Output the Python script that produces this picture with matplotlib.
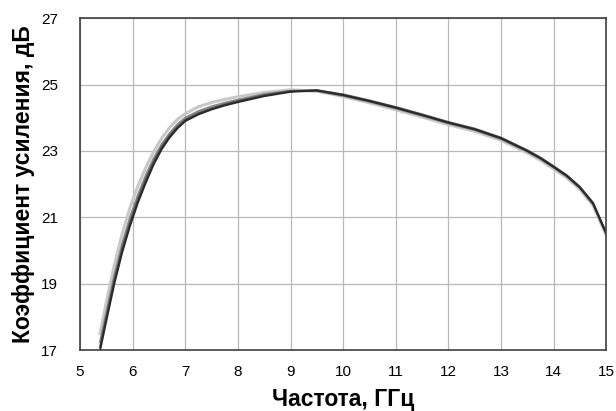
import matplotlib
matplotlib.use("Agg")
import matplotlib.pyplot as plt

plt.rcParams['font.family'] = ['Liberation Sans', 'DejaVu Sans']

freq = [5.38, 5.5, 5.65, 5.8, 5.95, 6.1, 6.25, 6.4, 6.55, 6.7, 6.85, 7.0,
        7.25, 7.5, 7.75, 8.0, 8.5, 9.0, 9.5, 10.0, 10.5, 11.0, 11.5, 12.0,
        12.5, 13.0, 13.5, 13.75, 14.0, 14.25, 14.5, 14.75, 15.0]

gain_1 = [17.0, 17.9, 19.0, 19.95, 20.75, 21.45, 22.05, 22.6, 23.05, 23.4, 23.68,
          23.9, 24.1, 24.25, 24.37, 24.47, 24.65, 24.78, 24.82, 24.68, 24.5,
          24.3, 24.08, 23.85, 23.65, 23.38, 23.0, 22.78, 22.52, 22.25, 21.9,
          21.42, 20.52]
gain_2 = [17.25, 18.15, 19.25, 20.2, 21.0, 21.68, 22.27, 22.78, 23.2, 23.53, 23.8,
          24.0, 24.2, 24.34, 24.45, 24.54, 24.71, 24.81, 24.8, 24.66, 24.48,
          24.28, 24.06, 23.83, 23.63, 23.36, 22.98, 22.76, 22.5, 22.23, 21.88,
          21.4, 20.5]
gain_3 = [17.5, 18.45, 19.55, 20.5, 21.3, 21.95, 22.5, 22.98, 23.38, 23.7, 23.95,
          24.12, 24.33, 24.46, 24.55, 24.63, 24.76, 24.84, 24.8, 24.64, 24.45,
          24.24, 24.02, 23.79, 23.59, 23.32, 22.94, 22.72, 22.46, 22.19, 21.84,
          21.36, 20.46]
gain_4 = [17.1, 18.0, 19.1, 20.05, 20.85, 21.55, 22.15, 22.68, 23.12, 23.46, 23.73,
          23.94, 24.14, 24.28, 24.4, 24.5, 24.68, 24.8, 24.83, 24.7, 24.52,
          24.32, 24.1, 23.87, 23.67, 23.4, 23.02, 22.8, 22.54, 22.27, 21.92,
          21.44, 20.54]

fig = plt.figure(figsize=(6.16, 4.11), dpi=100)
ax = fig.add_axes([0.13, 0.148, 0.854, 0.808])

ax.plot(freq, gain_3, color='#c8c8c8', lw=2.2)
ax.plot(freq, gain_2, color='#8a8a8a', lw=1.5)
ax.plot(freq, gain_4, color='#555555', lw=1.5)
ax.plot(freq, gain_1, color='#2a2a2a', lw=1.5)

ax.set_xlim(5, 15)
ax.set_ylim(17, 27)
ax.set_xticks(range(5, 16))
ax.set_yticks(range(17, 28, 2))
ax.grid(True, color='#b8b8b8', lw=0.9)
ax.set_axisbelow(True)
ax.tick_params(axis='y', length=0, labelsize=11, pad=16)
ax.tick_params(axis='x', length=0, labelsize=11, pad=11)
for s in ax.spines.values():
    s.set_color('#404040')
    s.set_linewidth(1.2)

ax.set_xlabel('Частота, ГГц', fontsize=16.5, fontweight='bold', labelpad=6)
ax.set_ylabel('Коэффициент усиления, дБ', fontsize=16.5, fontweight='bold', labelpad=4)

fig.savefig('out.png', dpi=100)
